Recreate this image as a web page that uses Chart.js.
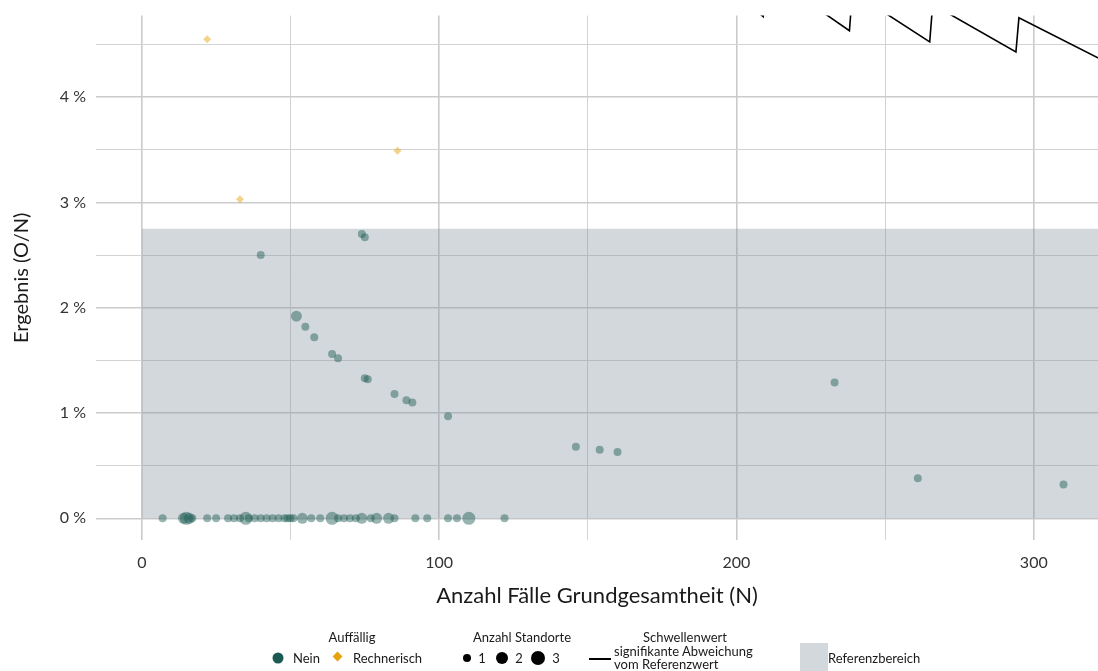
<!DOCTYPE html>
<html>
<head>
<meta charset="utf-8">
<script src="https://cdn.jsdelivr.net/npm/chart.js@4/dist/chart.umd.min.js"></script>
<style>
html,body{margin:0;padding:0;background:#fff;}
#wrap{position:relative;width:1098px;height:671px;overflow:hidden;font-family:Lato,"Open Sans",sans-serif;color:#1a1a1a;}
#c{position:absolute;left:0;top:0;}
.t{position:absolute;font-size:13px;line-height:14px;white-space:nowrap;}
.cx{transform:translate(-50%,-50%);}
.cy{transform:translateY(-50%);}
.dot{position:absolute;border-radius:50%;transform:translate(-50%,-50%);}
</style>
</head>
<body>
<div id="wrap">
<canvas id="c" width="1098" height="671"></canvas>

<div class="t cx" style="left:352px;top:637px;">Auffällig</div>
<div class="dot" style="left:278px;top:658px;width:11px;height:11px;background:#1b5a53;"></div>
<div class="t cy" style="left:293px;top:658px;">Nein</div>
<div style="position:absolute;left:334px;top:653px;width:7px;height:7px;background:#e8a20c;transform:rotate(45deg);"></div>
<div class="t cy" style="left:353px;top:658px;">Rechnerisch</div>

<div class="t cx" style="left:522px;top:637px;">Anzahl Standorte</div>
<div class="dot" style="left:467px;top:658px;width:8px;height:8px;background:#000;"></div>
<div class="t cx" style="left:482px;top:658px;">1</div>
<div class="dot" style="left:502px;top:658px;width:12px;height:12px;background:#000;"></div>
<div class="t cx" style="left:519px;top:658px;">2</div>
<div class="dot" style="left:538px;top:658px;width:14px;height:14px;background:#000;"></div>
<div class="t cx" style="left:556px;top:658px;">3</div>

<div class="t cx" style="left:685px;top:637px;">Schwellenwert</div>
<div style="position:absolute;left:589px;top:658px;width:22px;height:2px;background:#000;"></div>
<div class="t cy" style="left:614px;top:651px;">signifikante Abweichung</div>
<div class="t cy" style="left:614px;top:664px;">vom Referenzwert</div>

<div style="position:absolute;left:800px;top:643px;width:28px;height:28px;background:#d3d8dc;"></div>
<div class="t cy" style="left:828px;top:658px;">Referenzbereich</div>
</div>

<script>
// ---- data ----
// "Nein" (not conspicuous): N, result in %, number of sites
const neinN     = [74, 75, 40, 52, 55, 58, 64, 66, 75, 76, 85, 89, 91, 103, 146, 154, 160, 233, 261, 310,
                   7, 14, 15, 16, 17, 22, 25, 29, 31, 33, 35, 36, 38, 40, 42, 44, 46, 48, 49, 50, 51, 54, 57, 60, 64, 66, 68, 70, 72, 74, 77, 79, 83, 85, 92, 96, 103, 106, 110, 122];
const neinY     = [2.70, 2.67, 2.50, 1.92, 1.82, 1.72, 1.56, 1.52, 1.33, 1.32, 1.18, 1.12, 1.10, 0.97, 0.68, 0.65, 0.63, 1.29, 0.38, 0.32,
                   0, 0, 0, 0, 0, 0, 0, 0, 0, 0, 0, 0, 0, 0, 0, 0, 0, 0, 0, 0, 0, 0, 0, 0, 0, 0, 0, 0, 0, 0, 0, 0, 0, 0, 0, 0, 0, 0, 0, 0];
const neinSites = [1, 1, 1, 2, 1, 1, 1, 1, 1, 1, 1, 1, 1, 1, 1, 1, 1, 1, 1, 1,
                   1, 2, 3, 2, 1, 1, 1, 1, 1, 1, 3, 1, 1, 1, 1, 1, 1, 1, 1, 1, 1, 2, 1, 1, 3, 1, 1, 1, 1, 2, 1, 2, 2, 1, 1, 1, 1, 1, 3, 1];
// "Rechnerisch" (computationally conspicuous)
const rechN     = [22, 33, 86];
const rechY     = [4.55, 3.03, 3.49];
const rechSites = [1, 1, 1];
// threshold line (significant deviation from reference value)
const threshN   = [181, 209, 210, 238, 239, 265, 266, 294, 295, 330];
const threshY   = [5.40, 4.765, 5.18, 4.63, 5.00, 4.524, 4.88, 4.429, 4.753, 4.253];
// reference range
const refLow = 0, refHigh = 2.75;
const refFromN = 0, refToN = 330;
// ticks
const xTicks = [0, 50, 100, 150, 200, 250, 300];
const xLabels = [0, 100, 200, 300];
const yTicks = [0, 0.5, 1, 1.5, 2, 2.5, 3, 3.5, 4, 4.5];
const yLabels = [0, 1, 2, 3, 4];

// ---- chart ----
const siteRadius = s => (s === 1 ? 4 : s === 2 ? 5.5 : 6.5);
const toPts = (xs, ys) => xs.map((x, i) => ({x: x, y: ys[i]}));
const FONT = 'Lato, "Open Sans", sans-serif';

new Chart(document.getElementById('c'), {
  type: 'scatter',
  data: {
    datasets: [
      {
        label: 'Referenzbereich',
        data: [{x: refFromN, y: refHigh}, {x: refToN, y: refHigh}],
        showLine: true, fill: {value: refLow},
        backgroundColor: 'rgba(129,144,155,0.35)',
        borderWidth: 0, pointRadius: 0, order: 10, clip: 0
      },
      {
        label: 'Schwellenwert',
        data: toPts(threshN, threshY),
        showLine: true, fill: false,
        borderColor: '#000', borderWidth: 1.6, pointRadius: 0,
        tension: 0, order: 5, clip: 0
      },
      {
        label: 'Nein',
        data: toPts(neinN, neinY),
        backgroundColor: 'rgba(26,90,82,0.45)', borderWidth: 0,
        pointRadius: neinSites.map(siteRadius), pointStyle: 'circle', order: 2, clip: 0
      },
      {
        label: 'Rechnerisch',
        data: toPts(rechN, rechY),
        backgroundColor: 'rgba(232,162,12,0.47)', borderWidth: 0,
        pointRadius: rechSites.map(s => 4), pointStyle: 'rectRot', order: 1, clip: 0
      }
    ]
  },
  options: {
    responsive: false, animation: false, events: [],
    layout: {autoPadding: false, padding: {left: 0, right: 0, top: 15.6, bottom: 61}},
    plugins: {legend: {display: false}, tooltip: {enabled: false}},
    scales: {
      x: {
        type: 'linear', min: -15.4, max: 321.6,
        afterBuildTicks: s => { s.ticks = xTicks.map(v => ({value: v})); },
        afterFit: s => { s.height = 70; s.paddingLeft = 0; s.paddingRight = 0; },
        border: {display: false},
        grid: {
          drawTicks: false,
          color: c => (xLabels.includes(c.tick && c.tick.value) ? '#cbcbcb' : '#d3d3d3'),
          lineWidth: c => (xLabels.includes(c.tick && c.tick.value) ? 1.6 : 1)
        },
        ticks: {
          padding: 13, color: '#333', font: {family: FONT, size: 16},
          maxRotation: 0, autoSkip: false,
          callback: v => (xLabels.includes(v) ? String(v) : '')
        },
        title: {display: true, text: 'Anzahl Fälle Grundgesamtheit (N)', color: '#1a1a1a',
                font: {family: FONT, size: 22}, padding: {top: 0, bottom: 1}}
      },
      y: {
        type: 'linear', min: -0.206, max: 4.774,
        afterBuildTicks: s => { s.ticks = yTicks.map(v => ({value: v})); },
        afterFit: s => { s.width = 96; s.paddingTop = 0; s.paddingBottom = 0; },
        border: {display: false},
        grid: {
          drawTicks: false,
          color: c => (yLabels.includes(c.tick && c.tick.value) ? '#cbcbcb' : '#d3d3d3'),
          lineWidth: c => (yLabels.includes(c.tick && c.tick.value) ? 1.6 : 1)
        },
        ticks: {
          padding: 10, color: '#333', font: {family: FONT, size: 16}, autoSkip: false,
          callback: v => (yLabels.includes(v) ? v + ' %' : '')
        },
        title: {display: true, text: 'Ergebnis (O/N)', color: '#1a1a1a',
                font: {family: FONT, size: 20}, padding: {top: 10, bottom: 0}}
      }
    }
  }
});
</script>
</body>
</html>
